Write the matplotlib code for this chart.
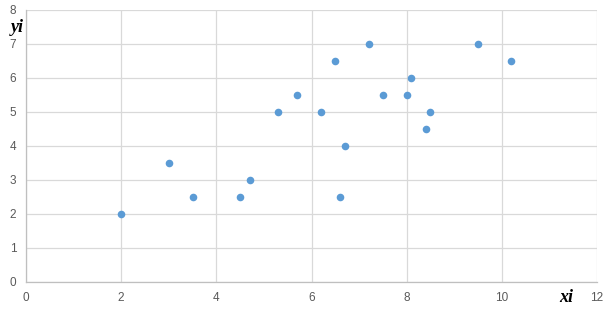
import matplotlib
matplotlib.use("Agg")
import matplotlib.pyplot as plt

x_values = [2.0, 3.0, 3.5, 4.5, 4.7, 5.3, 5.7, 6.2, 6.5, 6.6, 6.7, 7.2, 7.5, 8.0, 8.1, 8.4, 8.5, 9.5, 10.2]
y_values = [2.0, 3.5, 2.5, 2.5, 3.0, 5.0, 5.5, 5.0, 6.5, 2.5, 4.0, 7.0, 5.5, 5.5, 6.0, 4.5, 5.0, 7.0, 6.5]
x_ticks = [0, 2, 4, 6, 8, 10, 12]
y_ticks = [0, 1, 2, 3, 4, 5, 6, 7, 8]

fig = plt.figure(figsize=(6.11, 3.13), dpi=100)
ax = fig.add_axes([26/611, 1-282/313, (597-26)/611, (282-10)/313])
ax.scatter(x_values, y_values, s=30, color="#5b9bd5", zorder=3, linewidths=0)
ax.set_xlim(0, 12)
ax.set_ylim(0, 8)
ax.set_xticks(x_ticks)
ax.set_yticks(y_ticks)
ax.grid(True, color="#d9d9d9", linewidth=0.9)
ax.set_axisbelow(True)
for s in ["top", "right"]:
    ax.spines[s].set_visible(False)
for s in ["left", "bottom"]:
    ax.spines[s].set_color("#bfbfbf")
    ax.spines[s].set_linewidth(0.9)
ax.tick_params(length=0, labelsize=8.5, labelcolor="#595959", pad=7)
for lab in ax.get_xticklabels() + ax.get_yticklabels():
    lab.set_family("Liberation Sans")
fig.text(566/611, 1-297/313, "xi", family="Liberation Serif", style="italic", weight="bold",
         fontsize=13, ha="center", va="center")
fig.text(17/611, 1-27/313, "yi", family="Liberation Serif", style="italic", weight="bold",
         fontsize=13, ha="center", va="center")
fig.savefig("out.png", dpi=100)
